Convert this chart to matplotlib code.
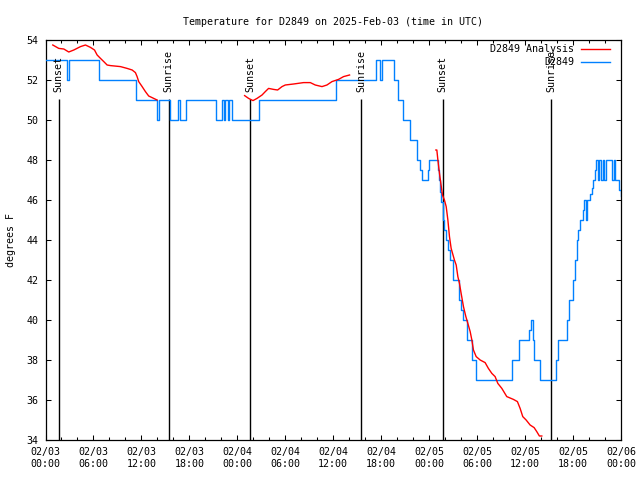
import matplotlib
matplotlib.use('Agg')
import matplotlib.pyplot as plt
import matplotlib.dates as mdates
import numpy as np
import pandas as pd

start = pd.Timestamp('2025-02-03 00:00')
end = pd.Timestamp('2025-02-06 00:00')

# station obs (stepped), hours after start
obs_hours = [0, 2.75, 3.0, 6.75, 11.34, 13.9, 14.15, 15.63, 16.6, 16.8, 17.55,
             21.33, 22.08, 22.29, 22.5, 22.79, 22.96, 23.33, 26.75, 36.33,
             41.33, 41.79, 42.08, 43.54, 44.08, 44.67, 45.54, 46.54, 46.9,
             47.1, 47.84, 48.04, 49.09, 49.29, 49.38, 49.5, 49.71, 49.91,
             50.08, 50.41, 50.63, 50.92, 51.79, 52.0, 52.21, 52.79, 53.34,
             53.88, 58.34, 59.29, 60.54, 60.79, 61.0, 61.17, 61.88, 63.83,
             64.16, 65.21, 65.54, 66.04, 66.25, 66.46, 66.66, 66.88, 67.21,
             67.41, 67.58, 67.75, 68.13, 68.34, 68.54, 68.75, 68.88, 69.08,
             69.29, 69.5, 69.71, 69.9, 70.1, 70.91, 71.1, 71.3, 71.54, 71.79,
             72.0]
obs_temp = [53, 52, 53, 52, 51, 50, 51, 50, 51, 50, 51,
            50, 51, 50, 51, 50, 51, 50, 51, 52,
            53, 52, 53, 52, 51, 50, 49, 48, 47.5,
            47, 47.5, 48, 47.5, 47, 46.4, 45.9, 45, 44.5,
            44, 43.5, 43, 42, 41, 40.5, 40, 39, 38,
            37, 38, 39, 39.5, 40, 39, 38, 37, 38,
            39, 40, 41, 42, 43, 44, 44.5, 45, 45.5,
            46, 45, 46, 46.3, 46.6, 47, 47.5, 48, 47,
            48, 47, 48, 47, 48, 47, 48, 47, 47, 46.5,
            46.2]

# analysis series, NaN = gap
ana_hours = [0.91, 1.66, 2.29, 2.91, 3.54, 4.38, 5.0, 5.63, 6.13, 6.46, 6.88,
             7.29, 7.71, 8.13, 9.38, 10.21, 10.84, 11.25, 11.46, 11.66, 12.09,
             12.5, 12.91, 13.54, 13.96, 14.0,
             24.91, 25.41, 25.96, 26.46, 27.09, 27.5, 27.91, 28.54, 29.04,
             29.59, 30.0, 31.04, 32.29, 33.13, 33.75, 34.59, 35.21, 35.84,
             36.66, 37.29, 38.04, 38.1,
             48.84, 48.96, 49.09, 49.29, 49.46, 49.66, 49.91, 50.13, 50.34,
             50.54, 50.75, 51.16, 51.38, 51.59, 51.79, 52.0, 52.29, 52.59,
             52.84, 53.13, 53.34, 53.54, 53.88, 54.38, 55.0, 55.41, 55.84,
             56.25, 56.59, 57.09, 57.71, 58.54, 59.04, 59.38, 59.71, 60.13,
             60.63, 61.13, 61.46, 61.79, 62.09]
ana_temp = [53.75, 53.58, 53.55, 53.4, 53.5, 53.67, 53.75, 53.63, 53.5, 53.25, 53.08,
            52.92, 52.75, 52.72, 52.67, 52.58, 52.5, 52.37, 52.17, 51.92, 51.67,
            51.42, 51.2, 51.08, 51.0, np.nan,
            51.22, 51.08, 50.97, 51.08, 51.25, 51.42, 51.58, 51.53, 51.5,
            51.67, 51.75, 51.8, 51.87, 51.87, 51.75, 51.67, 51.75, 51.92,
            52.03, 52.17, 52.25, np.nan,
            48.5, 48.5, 48.0, 47.33, 46.83, 46.25, 46.0, 45.67, 45.0,
            44.17, 43.58, 43.0, 42.75, 42.17, 41.83, 41.33, 40.67, 40.17,
            39.83, 39.42, 39.0, 38.5, 38.17, 38.0, 37.87, 37.58, 37.33,
            37.17, 36.83, 36.58, 36.17, 36.03, 35.92, 35.58, 35.17, 35.0,
            34.75, 34.62, 34.42, 34.2, 34.2]

sun_labels = ['Sunset', 'Sunrise', 'Sunset', 'Sunrise', 'Sunset', 'Sunrise']
sun_hours = [1.67, 15.42, 25.63, 39.46, 49.67, 63.25]

ytick_vals = list(range(34, 55, 2))

RED = '#ff0000'
BLUE = '#0080ff'

plt.rcParams['font.family'] = ['DejaVu Sans Mono']
plt.rcParams['font.size'] = 7.2


def to_time(hours):
    return start + pd.to_timedelta(np.asarray(hours, dtype=float), unit='h')


fig = plt.figure(figsize=(6.4, 4.8), dpi=100)
ax = fig.add_axes([45.5 / 640, 40 / 480, 575.5 / 640, 400 / 480])

ax.step(to_time(obs_hours), obs_temp, where='post', color=BLUE, lw=1.0, zorder=3)
ax.plot(to_time(ana_hours), ana_temp, color=RED, lw=1.0, zorder=4)

for lab, h in zip(sun_labels, sun_hours):
    t = to_time([h])[0]
    ax.vlines(t, 34, 51.05, color='black', lw=1.0, zorder=2)
    ax.text(t, 51.42, lab, rotation=90, rotation_mode='anchor',
            ha='left', va='center', fontsize=7.2, zorder=5)

ax.set_xlim(start, end)
ax.set_ylim(34, 54)
ax.set_yticks(ytick_vals)
ax.xaxis.set_major_locator(mdates.HourLocator(byhour=[0, 6, 12, 18]))
ax.xaxis.set_minor_locator(mdates.HourLocator(interval=2))
ax.xaxis.set_major_formatter(mdates.DateFormatter('%m/%d\n%H:%M'))

ax.tick_params(which='both', direction='in', top=True, right=True, width=0.75)
ax.tick_params(which='major', length=3.6)
ax.tick_params(which='minor', length=2.2)
ax.tick_params(axis='x', pad=5)
ax.tick_params(axis='y', pad=5)
for s in ax.spines.values():
    s.set_linewidth(0.9)

ax.set_ylabel('degrees F')
ax.yaxis.set_label_coords(-0.052, 0.5)
ax.set_title('Temperature for D2849 on 2025-Feb-03 (time in UTC)',
             fontsize=7.2, pad=11)

# gnuplot style key: right-justified text, sample line to the right
key = [('D2849 Analysis', RED), ('D2849', BLUE)]
for i, (lab, col) in enumerate(key):
    yk = (440 - 49.3 - 13 * i) / 400
    ax.text((574 - 45.5) / 575.5, yk, lab, transform=ax.transAxes,
            ha='right', va='center', zorder=6)
    ax.plot([(581 - 45.5) / 575.5, (610 - 45.5) / 575.5], [yk, yk],
            transform=ax.transAxes, color=col, lw=1.0, clip_on=False)

fig.savefig('out.png', dpi=100)
